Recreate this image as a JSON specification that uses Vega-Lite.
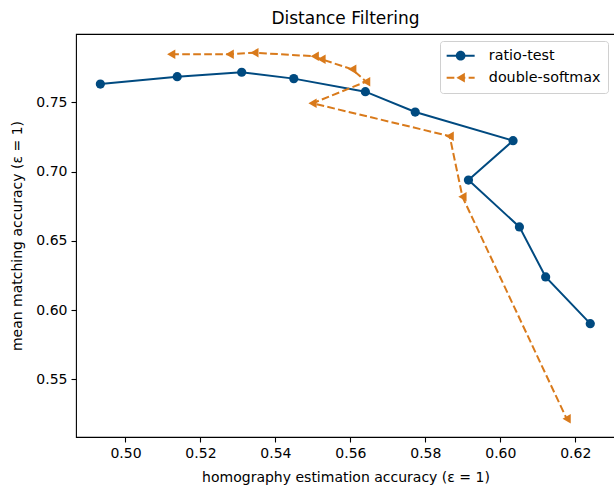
{
  "$schema": "https://vega.github.io/schema/vega-lite/v6.json",
  "width": 539,
  "height": 403,
  "autosize": {"type": "none"},
  "padding": {"left": 76, "top": 34, "right": 0, "bottom": 50},
  "background": "white",
  "title": {"text": "Distance Filtering", "fontSize": 17, "font": "DejaVu Sans", "fontWeight": "normal", "color": "black", "offset": 6},
  "config": {
    "font": "DejaVu Sans",
    "view": {"stroke": "black", "strokeWidth": 1.1},
    "axis": {"domain": false, "grid": false, "tickColor": "black", "tickSize": 5, "tickWidth": 1.1, "labelFontSize": 14, "labelColor": "black", "labelPadding": 4, "titleFontSize": 14, "titleFontWeight": "normal", "titleColor": "black", "labelFont": "DejaVu Sans", "titleFont": "DejaVu Sans"},
    "legend": {"orient": "top-right", "offset": 7, "padding": 7.5, "fillColor": "rgba(255,255,255,0.8)", "strokeColor": "#d0d0d0", "cornerRadius": 3, "labelFontSize": 14.3, "labelColor": "black", "labelFont": "DejaVu Sans", "symbolSize": 196, "symbolOffset": 6, "labelOffset": 21, "rowPadding": 7, "symbolStrokeWidth": 0}
  },
  "data": {"values": [
    {"series": "ratio-test", "order": 1, "x": 0.4933, "y": 0.7632},
    {"series": "ratio-test", "order": 2, "x": 0.5138, "y": 0.7685},
    {"series": "ratio-test", "order": 3, "x": 0.5310, "y": 0.7717},
    {"series": "ratio-test", "order": 4, "x": 0.5449, "y": 0.7671},
    {"series": "ratio-test", "order": 5, "x": 0.5640, "y": 0.7577},
    {"series": "ratio-test", "order": 6, "x": 0.5773, "y": 0.7430},
    {"series": "ratio-test", "order": 7, "x": 0.6034, "y": 0.7223},
    {"series": "ratio-test", "order": 8, "x": 0.5915, "y": 0.6939},
    {"series": "ratio-test", "order": 9, "x": 0.6051, "y": 0.6601},
    {"series": "ratio-test", "order": 10, "x": 0.6121, "y": 0.6240},
    {"series": "ratio-test", "order": 11, "x": 0.6240, "y": 0.5903},
    {"series": "double-softmax", "order": 1, "x": 0.5122, "y": 0.7847},
    {"series": "double-softmax", "order": 2, "x": 0.5278, "y": 0.7847},
    {"series": "double-softmax", "order": 3, "x": 0.5344, "y": 0.7858},
    {"series": "double-softmax", "order": 4, "x": 0.5505, "y": 0.7832},
    {"series": "double-softmax", "order": 5, "x": 0.5523, "y": 0.7811},
    {"series": "double-softmax", "order": 6, "x": 0.5605, "y": 0.7738},
    {"series": "double-softmax", "order": 7, "x": 0.5642, "y": 0.7649},
    {"series": "double-softmax", "order": 8, "x": 0.5499, "y": 0.7493},
    {"series": "double-softmax", "order": 9, "x": 0.5865, "y": 0.7256},
    {"series": "double-softmax", "order": 10, "x": 0.5899, "y": 0.6818},
    {"series": "double-softmax", "order": 11, "x": 0.6177, "y": 0.5217}
  ]},
  "encoding": {
    "x": {"field": "x", "type": "quantitative", "title": "homography estimation accuracy (ε = 1)",
          "scale": {"domain": [0.4868, 0.6306], "nice": false, "zero": false},
          "axis": {"values": [0.50, 0.52, 0.54, 0.56, 0.58, 0.60, 0.62], "format": ".2f", "titlePadding": 10}},
    "y": {"field": "y", "type": "quantitative", "title": "mean matching accuracy (ε = 1)",
          "scale": {"domain": [0.5085, 0.7993], "nice": false, "zero": false},
          "axis": {"values": [0.55, 0.60, 0.65, 0.70, 0.75], "format": ".2f", "titlePadding": 11}},
    "order": {"field": "order", "type": "quantitative"}
  },
  "layer": [
    {"transform": [{"filter": "datum.series === 'ratio-test'"}],
     "mark": {"type": "line", "strokeWidth": 2, "color": "#004a80"}},
    {"transform": [{"filter": "datum.series === 'ratio-test'"}],
     "mark": {"type": "point", "filled": true, "opacity": 1, "size": 85, "shape": "circle", "color": "#004a80"}},
    {"transform": [{"filter": "datum.series === 'double-softmax'"}],
     "mark": {"type": "line", "strokeWidth": 2, "color": "#d97a1b", "strokeDash": [7.7, 3.3]}},
    {"transform": [{"filter": "datum.series === 'double-softmax'"}],
     "mark": {"type": "point", "filled": true, "opacity": 1, "size": 90, "shape": "triangle-left", "color": "#d97a1b"}},
    {"transform": [{"filter": "false"}],
     "mark": {"type": "point", "filled": true, "opacity": 1},
     "encoding": {
       "color": {"field": "series", "type": "nominal", "scale": {"domain": ["ratio-test", "double-softmax"], "range": ["#004a80", "#d97a1b"]}, "legend": {"title": null}},
       "shape": {"field": "series", "type": "nominal", "scale": {"domain": ["ratio-test", "double-softmax"], "range": [
         "M-2,-0.143L2,-0.143L2,0.143L-2,0.143ZM0.69,0A0.69,0.69,0,1,1,-0.69,0A0.69,0.69,0,1,1,0.69,0Z",
         "M-2,-0.143L-0.9,-0.143L-0.9,0.143L-2,0.143ZM-0.43,-0.143L0.67,-0.143L0.67,0.143L-0.43,0.143ZM1.14,-0.143L2,-0.143L2,0.143L1.14,0.143ZM-0.6,0L0.6,-0.69L0.6,0.69Z"
       ]}, "legend": {"title": null}}
     }}
  ]
}
